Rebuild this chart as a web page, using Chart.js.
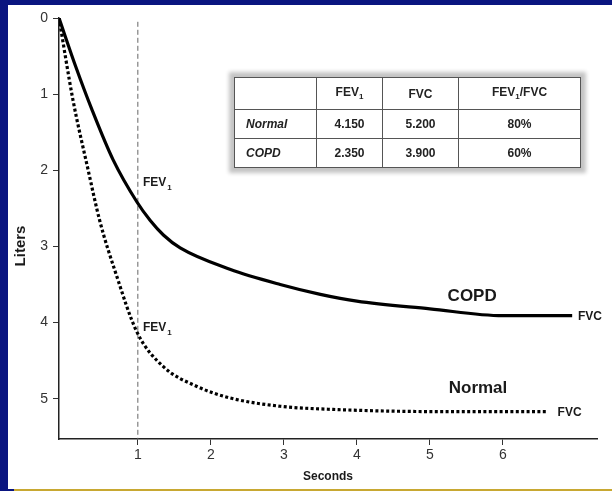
<!DOCTYPE html>
<html>
<head>
<meta charset="UTF-8">
<title>Spirometry - Normal vs COPD</title>
<script src="https://cdn.jsdelivr.net/npm/chart.js"></script>
<style>
    body { margin: 0; width: 612px; height: 491px; background: #0a1580; overflow: hidden; position: relative; font-family: "Liberation Sans", Arial, sans-serif; }
    #paper { position: absolute; left: 8px; top: 5px; width: 604px; height: 484px; background: #fff; }
    #gold { position: absolute; left: 14px; top: 489px; width: 598px; height: 2px; background: #c8a832; }
    #wrap { position: absolute; left: 0; top: 0; width: 612px; height: 491px; }
    #fevTable { position: absolute; left: 234px; top: 77px; width: 346px; height: 90px; table-layout: fixed; border-collapse: collapse; box-shadow: 0 0 4px 5px #c4c4c4; background: #fff; }
    #fevTable td { border: 1.5px solid #555; font-size: 12px; font-weight: bold; color: #222; text-align: center; padding: 0; }
    #fevTable td.name { text-align: left; padding-left: 11px; font-style: italic; }
    #fevTable sub { font-size: 8px; }
</style>
</head>
<body>
<div id="paper"></div>
<div id="gold"></div>
<div id="wrap"><canvas id="spiroChart" width="612" height="491"></canvas></div>

<table id="fevTable">
    <colgroup><col style="width:82px"><col style="width:66px"><col style="width:76px"><col style="width:122px"></colgroup>
    <tr style="height:32px">
        <td></td>
        <td>FEV<sub>1</sub></td>
        <td>FVC</td>
        <td>FEV<sub>1</sub>/FVC</td>
    </tr>
    <tr style="height:29px"><td class="name" id="row0"></td><td></td><td></td><td></td></tr>
    <tr style="height:29px"><td class="name" id="row1"></td><td></td><td></td><td></td></tr>
</table>

<script>
    // Dữ liệu
    const copdX   = [-0.08, 0.15, 0.37, 0.66, 0.99, 1.17, 1.35, 1.58, 2.26, 2.95, 3.50, 4.00, 5.00, 6.00, 6.95];
    const copdY   = [0, 0.64, 1.20, 1.86, 2.42, 2.66, 2.85, 3.02, 3.30, 3.50, 3.63, 3.72, 3.82, 3.91, 3.91];
    const normalX = [-0.08, 0.11, 0.32, 0.48, 0.69, 0.99, 1.35, 1.81, 2.26, 2.95, 3.63, 5.14, 6.62];
    const normalY = [0, 1.07, 2.00, 2.67, 3.33, 4.13, 4.58, 4.84, 4.99, 5.10, 5.14, 5.17, 5.17];
    const xTicks = [1, 2, 3, 4, 5, 6];
    const yTicks = [0, 1, 2, 3, 4, 5];

    // Bảng FEV1 / FVC
    const tableRows = ['Normal', 'COPD'];
    const tableFev1 = ['4.150', '2.350'];
    const tableFvc = ['5.200', '3.900'];
    const tableRatio = ['80%', '60%'];

    tableRows.forEach(function (name, i) {
        const cells = document.getElementById('row' + i).parentNode.children;
        cells[0].textContent = name;
        cells[1].textContent = tableFev1[i];
        cells[2].textContent = tableFvc[i];
        cells[3].textContent = tableRatio[i];
    });

    function toPoints(xs, ys) {
        return xs.map(function (x, i) { return { x: x, y: ys[i] }; });
    }

    const FONT = '"Liberation Sans", Arial, sans-serif';

    // chữ ghi chú trên biểu đồ
    const notes = [
        { text: 'FEV', sub: '1', x: 1.07, y: 2.16, size: 12, align: 'left' },
        { text: 'FEV', sub: '1', x: 1.07, y: 4.07, size: 12, align: 'left' },
        { text: 'COPD', x: 5.58, y: 3.66, size: 17, align: 'center' },
        { text: 'Normal', x: 5.66, y: 4.86, size: 17, align: 'center' },
        { text: 'FVC', x: 7.03, y: 3.92, size: 12, align: 'left' },
        { text: 'FVC', x: 6.75, y: 5.18, size: 12, align: 'left' }
    ];

    const notesPlugin = {
        id: 'notes',
        afterDraw: function (chart) {
            const ctx = chart.ctx;
            const xs = chart.scales.x, ys = chart.scales.y;
            ctx.save();
            ctx.fillStyle = '#1a1a1a';
            ctx.textBaseline = 'middle';
            notes.forEach(function (n) {
                const px = xs.getPixelForValue(n.x);
                const py = ys.getPixelForValue(n.y);
                ctx.font = 'bold ' + n.size + 'px ' + FONT;
                ctx.textAlign = n.align;
                ctx.fillText(n.text, px, py);
                if (n.sub) {
                    const w = ctx.measureText(n.text).width;
                    ctx.font = 'bold 8px ' + FONT;
                    ctx.textAlign = 'left';
                    ctx.fillText(n.sub, px + w + 1, py + 5);
                }
            });
            // nhãn trục Y
            ctx.translate(21, 246);
            ctx.rotate(-Math.PI / 2);
            ctx.font = 'bold 15px ' + FONT;
            ctx.textAlign = 'center';
            ctx.fillText('Liters', 0, 0);
            ctx.restore();
        }
    };

    const ctx = document.getElementById('spiroChart').getContext('2d');
    new Chart(ctx, {
        type: 'line',
        data: {
            datasets: [{
                label: 'COPD',
                data: toPoints(copdX, copdY),
                borderColor: '#000',
                borderWidth: 3.2,
                pointRadius: 0,
                cubicInterpolationMode: 'monotone'
            }, {
                label: 'Normal',
                data: toPoints(normalX, normalY),
                borderColor: '#000',
                borderWidth: 3.2,
                borderDash: [3, 2.4],
                pointRadius: 0,
                cubicInterpolationMode: 'monotone'
            }, {
                label: '1 s',
                data: [{ x: 1, y: 0.05 }, { x: 1, y: 5.53 }],
                borderColor: '#666',
                borderWidth: 1,
                borderDash: [5, 3],
                pointRadius: 0
            }]
        },
        options: {
            responsive: false,
            animation: false,
            layout: { padding: { top: 18, right: 15, left: 0, bottom: 0 } },
            plugins: { legend: { display: false }, tooltip: { enabled: false } },
            scales: {
                x: {
                    type: 'linear',
                    min: -0.08,
                    max: 7.29,
                    afterBuildTicks: function (s) { s.ticks = xTicks.map(function (v) { return { value: v }; }); },
                    afterFit: function (s) { s.height = 52; },
                    grid: { drawOnChartArea: false, drawTicks: true, tickLength: 6, tickColor: '#333', tickWidth: 1 },
                    border: { display: true, color: '#222', width: 1.5 },
                    ticks: { color: '#333', font: { family: FONT, size: 14 }, padding: 2 },
                    title: { display: true, text: 'Seconds', color: '#1a1a1a', font: { family: FONT, size: 12, weight: 'bold' }, padding: { top: 0, bottom: 7 } }
                },
                y: {
                    type: 'linear',
                    reverse: true,
                    min: 0,
                    max: 5.53,
                    afterBuildTicks: function (s) { s.ticks = yTicks.map(function (v) { return { value: v }; }); },
                    afterFit: function (s) { s.width = 59; },
                    grid: { drawOnChartArea: false, drawTicks: true, tickLength: 6, tickColor: '#333', tickWidth: 1 },
                    border: { display: true, color: '#222', width: 1.5 },
                    ticks: { color: '#333', font: { family: FONT, size: 14 }, padding: 5 }
                }
            }
        },
        plugins: [notesPlugin]
    });
</script>
</body>
</html>
